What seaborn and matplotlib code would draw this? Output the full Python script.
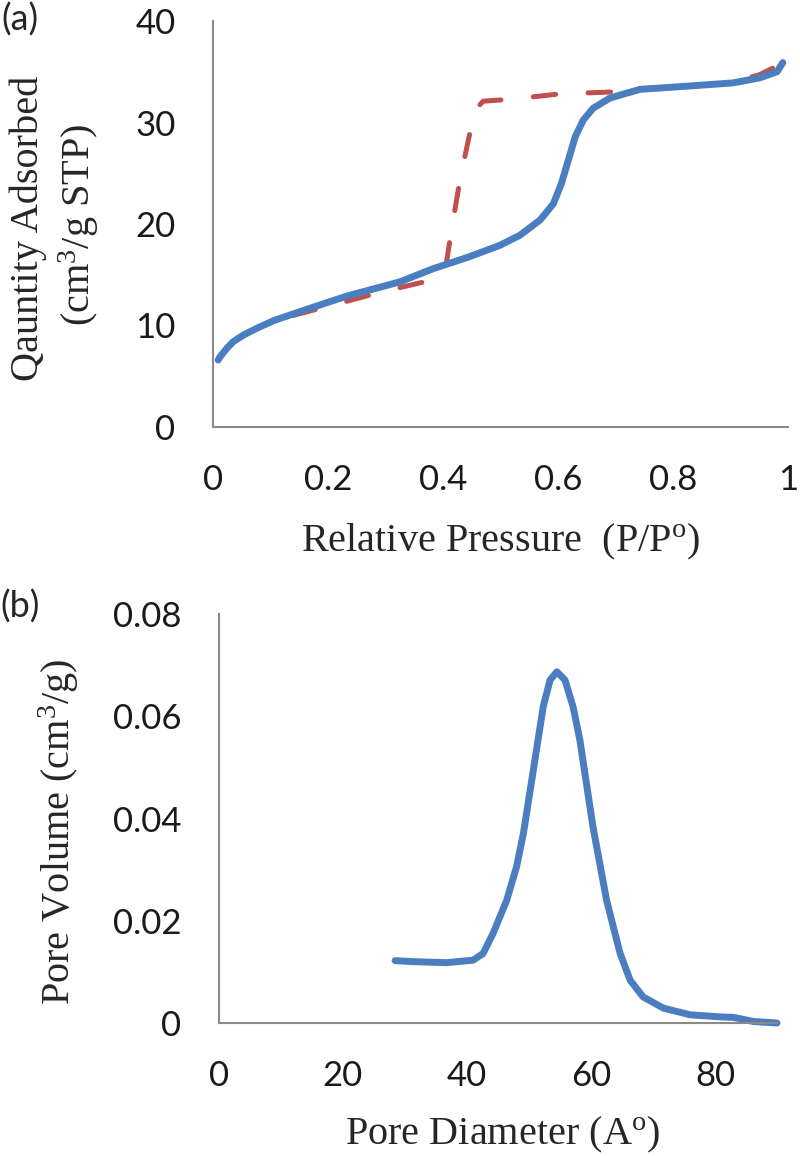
import matplotlib
matplotlib.use("Agg")
import matplotlib.pyplot as plt
import seaborn as sns

# (a) isotherm - adsorption branch
ads_p = [0.009, 0.012, 0.024, 0.035, 0.053, 0.076, 0.105, 0.151, 0.198, 0.233,
         0.325, 0.383, 0.442, 0.499, 0.534, 0.569, 0.592, 0.606, 0.618, 0.630,
         0.644, 0.661, 0.690, 0.720, 0.743, 0.812, 0.904, 0.951, 0.981, 0.991]
ads_q = [6.6, 6.9, 7.75, 8.4, 9.06, 9.72, 10.47, 11.36, 12.25, 12.9,
         14.3, 15.6, 16.7, 17.9, 18.9, 20.4, 22.0, 24.0, 26.3, 28.6,
         30.25, 31.4, 32.4, 32.9, 33.27, 33.53, 33.9, 34.4, 35.0, 35.9]

# (a) isotherm - desorption branch
des_p = [0.14, 0.20, 0.30, 0.36, 0.39, 0.405, 0.415, 0.43, 0.445, 0.455,
         0.47, 0.52, 0.60, 0.69, 0.74, 0.80, 0.90, 0.95, 0.975, 0.99]
des_q = [11.0, 11.9, 13.4, 14.2, 14.6, 15.8, 19.5, 24.5, 28.5, 31.2,
         32.1, 32.3, 32.8, 33.0, 33.25, 33.4, 33.9, 34.7, 35.4, 35.9]

# (b) pore size distribution
pore_d = [28.4, 31.3, 36.7, 41.0, 42.6, 44.2, 46.4, 48.0, 49.1, 50.2,
          51.2, 52.3, 53.4, 54.5, 55.8, 57.1, 58.2, 60.3, 62.5, 63.6,
          64.7, 66.3, 68.4, 71.7, 76.0, 80.8, 83.0, 86.2, 90.0]
pore_v = [0.0122, 0.0120, 0.0118, 0.0123, 0.0136, 0.0175, 0.0240, 0.0306, 0.0371, 0.0456,
          0.0534, 0.0619, 0.0671, 0.0687, 0.0671, 0.0619, 0.0554, 0.0385, 0.0241, 0.0188,
          0.0136, 0.0084, 0.0051, 0.0029, 0.0016, 0.0012, 0.0011, 0.0003, 0.0]

ticks_a = [0, 0.2, 0.4, 0.6, 0.8, 1]
tick_labels_a = ["0", "0.2", "0.4", "0.6", "0.8", "1"]
yticks_a = [0, 10, 20, 30, 40]
ticks_b = [0, 20, 40, 60, 80]
yticks_b = [0, 0.02, 0.04, 0.06, 0.08]
ytick_labels_b = ["0", "0.02", "0.04", "0.06", "0.08"]

blue = "#4A7EC0"
red = "#C0504D"
grey = "#8A8A8A"

sns.set_style("white")
plt.rcParams['font.family'] = ['Lato', 'DejaVu Sans']
plt.rcParams['mathtext.fontset'] = 'custom'
plt.rcParams['mathtext.rm'] = 'Liberation Serif'
plt.rcParams['mathtext.it'] = 'Liberation Serif:italic'

W, H = 800, 1156
fig = plt.figure(figsize=(8, 11.56), dpi=100)
ax1 = fig.add_axes([213 / W, 1 - 427 / H, 575 / W, 406 / H])
ax2 = fig.add_axes([219 / W, 1 - 1023 / H, 558 / W, 409 / H])

sns.lineplot(x=des_p, y=des_q, ax=ax1, color=red, linewidth=3.6, clip_on=False)
ax1.lines[-1].set_linestyle((0, (4.5, 6.5)))
ax1.lines[-1].set_dash_capstyle("round")
sns.lineplot(x=ads_p, y=ads_q, ax=ax1, color=blue, linewidth=5, clip_on=False)
ax1.lines[-1].set_solid_capstyle("round")
ax1.lines[-1].set_solid_joinstyle("round")

sns.lineplot(x=pore_d, y=pore_v, ax=ax2, color=blue, linewidth=5, clip_on=False)
ax2.lines[-1].set_solid_capstyle("round")
ax2.lines[-1].set_solid_joinstyle("round")

ax1.set_xlim(0, 1)
ax1.set_ylim(0, 40)
ax1.set_xticks(ticks_a)
ax1.set_xticklabels(tick_labels_a)
ax1.set_yticks(yticks_a)

ax2.set_xlim(0, 90)
ax2.set_ylim(0, 0.08)
ax2.set_xticks(ticks_b)
ax2.set_yticks(yticks_b)
ax2.set_yticklabels(ytick_labels_b)

for ax in (ax1, ax2):
    ax.set_xlabel("")
    ax.set_ylabel("")
    for s in ["top", "right"]:
        ax.spines[s].set_visible(False)
    for s in ["left", "bottom"]:
        ax.spines[s].set_color(grey)
        ax.spines[s].set_linewidth(1.5)
    ax.tick_params(direction="out", length=8, width=1.5, color=grey,
                   labelsize=25, labelcolor="#1a1a1a")
    ax.tick_params(axis="y", pad=19)
    ax.tick_params(axis="x", pad=19)

serif = "Liberation Serif"
fig.text(501 / W, 1 - 542 / H, r"Relative Pressure  (P/P$^{\mathrm{o}}$)",
         family=serif, fontsize=29, ha="center", va="center")
fig.text(503 / W, 1 - 1135 / H, r"Pore Diameter (A$^{\mathrm{o}}$)",
         family=serif, fontsize=29, ha="center", va="center")
fig.text(28 / W, 1 - 228 / H, "Qauntity Adsorbed",
         family=serif, fontsize=29, ha="center", va="center", rotation=90)
fig.text(79 / W, 1 - 225 / H, r"(cm$^{3}$/g STP)",
         family=serif, fontsize=29, ha="center", va="center", rotation=90)
fig.text(59 / W, 1 - 832 / H, r"Pore Volume (cm$^{3}$/g)",
         family=serif, fontsize=29, ha="center", va="center", rotation=90)

fig.text(20 / W, 1 - 20 / H, "(a)", fontsize=26, ha="center", va="center")
fig.text(20 / W, 1 - 607 / H, "(b)", fontsize=26, ha="center", va="center")

fig.savefig("out.png", dpi=100)
